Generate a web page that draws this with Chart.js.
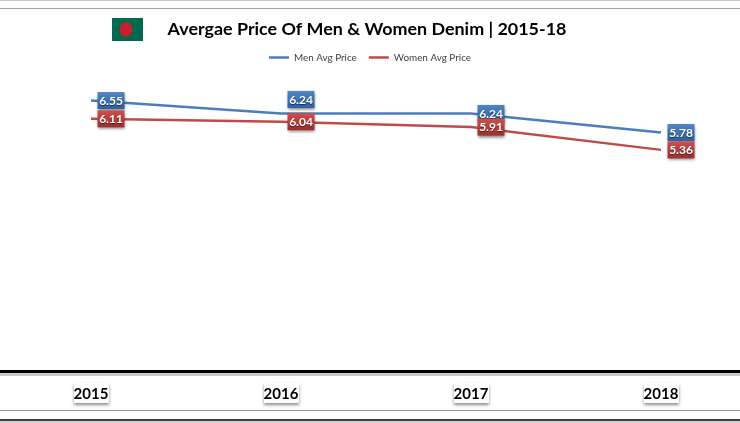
<!DOCTYPE html>
<html>
<head>
<meta charset="utf-8">
<style>
html, body { margin: 0; padding: 0; background: #fff; overflow: hidden; }
canvas { display: block; }
</style>
<script src="https://cdn.jsdelivr.net/npm/chart.js@4"></script>
</head>
<body>
<canvas id="chart" width="740" height="423"></canvas>
<script>
const years = ['2015', '2016', '2017', '2018'];
const menPrice = [6.55, 6.24, 6.24, 5.78];
const womenPrice = [6.11, 6.04, 5.91, 5.36];
const menName = 'Men Avg Price';
const womenName = 'Women Avg Price';
const titleText = 'Avergae Price Of Men & Women Denim | 2015-18';

const blue = '#4a7ebb';
const red = '#be4b48';
const fontName = 'Lato, "Open Sans", sans-serif';

// the labels sit to the right of their point, a few were dragged by hand
const labelShiftX = 20;
const menShiftY = [0, -14, 0, 0];
const womenShiftY = [0, 0, 0, 0];

function hLine(ctx, y, width, color) {
    ctx.fillStyle = color;
    ctx.fillRect(0, y, 740, width);
}

// grey and black rules of the slide, and the flag
const framePlugin = {
    id: 'frame',
    afterLayout(chart) {
        // title sits a little left of the page centre
        chart.titleBlock.left -= 3;
        chart.titleBlock.right -= 3;
    },
    beforeDraw(chart) {
        const ctx = chart.ctx;
        const xScale = chart.scales.x;
        ctx.save();
        hLine(ctx, 0, 1, '#c8c8c8');
        hLine(ctx, 8, 1, '#a6a6a6');

        // flag
        ctx.fillStyle = '#006a4e';
        ctx.fillRect(112, 18, 31, 23);
        ctx.fillStyle = '#c4202e';
        ctx.beginPath();
        ctx.ellipse(126, 29.5, 6.5, 7.5, 0, 0, Math.PI * 2);
        ctx.fill();

        // axis band
        hLine(ctx, 373, 3, '#c9c9c9');
        hLine(ctx, 370, 3, '#000');
        hLine(ctx, 410, 1, '#9a9a9a');
        hLine(ctx, 421, 2, '#d0d0d0');
        hLine(ctx, 419, 2, '#404040');

        // raised boxes behind the years
        years.forEach((y, i) => {
            const x = xScale.getPixelForTick(i);
            ctx.save();
            ctx.shadowColor = 'rgba(0,0,0,0.45)';
            ctx.shadowBlur = 3;
            ctx.shadowOffsetY = 2;
            ctx.fillStyle = '#fff';
            ctx.fillRect(x - 17, 383, 35, 20);
            ctx.restore();
        });
        ctx.restore();
    },
    afterDatasetsDraw(chart) {
        const ctx = chart.ctx;
        drawLabels(ctx, chart.getDatasetMeta(0).data, menPrice, menShiftY, '#4f86c6', '#2f5f9e');
        drawLabels(ctx, chart.getDatasetMeta(1).data, womenPrice, womenShiftY, '#cf4f4c', '#9c2f2d');
    }
};

function drawLabels(ctx, points, values, shiftY, top, bottom) {
    points.forEach((pt, i) => {
        const w = 27, h = 17;
        const x = pt.x + labelShiftX;
        const y = pt.y + shiftY[i];
        ctx.save();
        const g = ctx.createLinearGradient(0, y - h / 2, 0, y + h / 2);
        g.addColorStop(0, top);
        g.addColorStop(1, bottom);
        ctx.shadowColor = 'rgba(0,0,0,0.5)';
        ctx.shadowBlur = 3;
        ctx.shadowOffsetY = 2;
        ctx.fillStyle = g;
        ctx.fillRect(x - w / 2, y - h / 2, w, h);
        ctx.shadowColor = 'rgba(0,0,0,0.6)';
        ctx.shadowBlur = 1;
        ctx.shadowOffsetY = 1;
        ctx.fillStyle = '#fff';
        ctx.font = 'bold 12px ' + fontName;
        ctx.textAlign = 'center';
        ctx.textBaseline = 'middle';
        ctx.fillText(values[i].toFixed(2), x, y + 0.5);
        ctx.restore();
    });
}

new Chart(document.getElementById('chart'), {
    type: 'line',
    data: {
        labels: years,
        datasets: [
            { label: menName, data: menPrice, borderColor: blue, backgroundColor: blue, borderWidth: 2.5, pointRadius: 0, tension: 0 },
            { label: womenName, data: womenPrice, borderColor: red, backgroundColor: red, borderWidth: 2.5, pointRadius: 0, tension: 0 }
        ]
    },
    options: {
        responsive: false,
        animation: false,
        devicePixelRatio: 1,
        layout: { padding: 0 },
        plugins: {
            title: {
                display: true,
                text: titleText,
                color: '#000',
                font: { family: fontName, size: 17.9, weight: 'bold' },
                padding: { top: 18, bottom: 1 }
            },
            legend: {
                display: true,
                position: 'top',
                labels: {
                    boxWidth: 20,
                    boxHeight: 0,
                    padding: 12,
                    color: '#404040',
                    font: { family: fontName, size: 9.9 }
                }
            },
            tooltip: { enabled: false }
        },
        scales: {
            x: {
                offset: false,
                grid: { display: false, drawTicks: false },
                border: { display: false },
                ticks: {
                    color: '#000',
                    padding: 13,
                    maxRotation: 0,
                    font: { family: fontName, size: 15, weight: 'bold' }
                },
                afterFit(s) { s.height = 51; }
            },
            y: {
                min: 0,
                max: 7.23,
                grid: { display: false },
                border: { display: false },
                ticks: { display: false },
                afterFit(s) { s.width = 91; }
            },
            y2: {
                position: 'right',
                grid: { display: false },
                border: { display: false },
                ticks: { display: false },
                afterFit(s) { s.width = 79; }
            }
        }
    },
    plugins: [framePlugin]
});
</script>
</body>
</html>
